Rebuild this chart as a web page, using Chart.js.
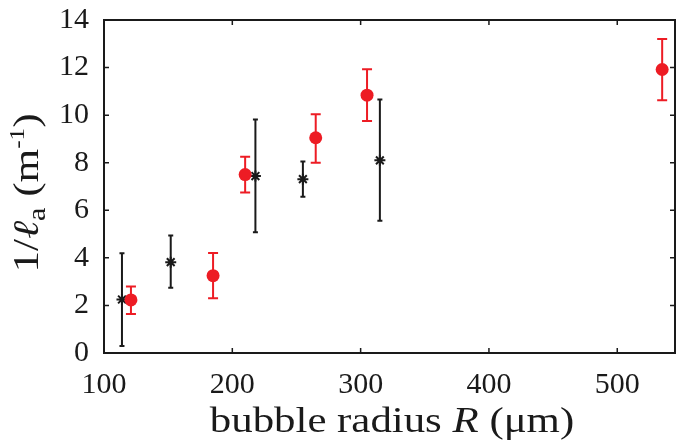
<!DOCTYPE html>
<html>
<head>
<meta charset="utf-8">
<script src="https://cdn.jsdelivr.net/npm/chart.js@4.4.1/dist/chart.umd.min.js"></script>
<style>
  html, body { margin: 0; padding: 0; background: #fff; }
</style>
</head>
<body>
<canvas id="chart" width="676" height="447"></canvas>
<script>
// tick labels
const xTicks = [100, 200, 300, 400, 500];
const yTicks = [0, 2, 4, 6, 8, 10, 12, 14];

// red circles (value with lower / upper error bar ends)
const redR = [121, 185, 210, 265, 305, 535];
const redVal = [2.23, 3.25, 7.5, 9.05, 10.84, 11.92];
const redLow = [1.64, 2.3, 6.75, 8.0, 9.75, 10.63];
const redHigh = [2.8, 4.2, 8.25, 10.04, 11.93, 13.2];

// black stars
const blackR = [114, 152, 218, 255, 315];
const blackVal = [2.25, 3.82, 7.44, 7.31, 8.1];
const blackLow = [0.29, 2.74, 5.08, 6.57, 5.56];
const blackHigh = [4.19, 4.94, 9.82, 8.05, 10.66];

const RED = '#ed1c24';
const INK = '#1a1a1a';
const SERIF = '"Liberation Serif"';

function toPoints(xs, ys) {
  return xs.map((x, i) => ({ x: x, y: ys[i] }));
}

// Draws vertical error bars with caps under the markers
const errorBars = {
  id: 'errorBars',
  beforeDatasetsDraw(chart) {
    const ctx = chart.ctx;
    const xs = chart.scales.x;
    const ys = chart.scales.y;
    chart.data.datasets.forEach(ds => {
      ctx.save();
      ctx.strokeStyle = ds.errColor;
      ctx.lineWidth = 2;
      ds.data.forEach((p, i) => {
        const px = xs.getPixelForValue(p.x);
        const top = ys.getPixelForValue(ds.errHigh[i]);
        const bot = ys.getPixelForValue(ds.errLow[i]);
        const w = ds.capHalf;
        ctx.beginPath();
        ctx.moveTo(px, top);
        ctx.lineTo(px, bot);
        ctx.moveTo(px - w, top);
        ctx.lineTo(px + w, top);
        ctx.moveTo(px - w, bot);
        ctx.lineTo(px + w, bot);
        ctx.stroke();
      });
      ctx.restore();
    });
  }
};

// Box frame with inward ticks on all four sides
const frame = {
  id: 'frame',
  afterDraw(chart) {
    const ctx = chart.ctx;
    const a = chart.chartArea;
    const xs = chart.scales.x;
    const ys = chart.scales.y;
    const len = 5;
    ctx.save();
    ctx.strokeStyle = INK;
    ctx.lineWidth = 2;
    ctx.strokeRect(a.left, a.top, a.right - a.left, a.bottom - a.top);
    ctx.lineWidth = 1.5;
    ctx.beginPath();
    xTicks.forEach(v => {
      const px = xs.getPixelForValue(v);
      ctx.moveTo(px, a.bottom);
      ctx.lineTo(px, a.bottom - len);
      ctx.moveTo(px, a.top);
      ctx.lineTo(px, a.top + len);
    });
    yTicks.forEach(v => {
      const py = ys.getPixelForValue(v);
      ctx.moveTo(a.left, py);
      ctx.lineTo(a.left + len, py);
      ctx.moveTo(a.right, py);
      ctx.lineTo(a.right - len, py);
    });
    ctx.stroke();
    ctx.restore();
  }
};

// Axis titles with italic letters, sub- and superscripts.
// Text is stretched a little to get the wide look of the original serif.
function drawRuns(ctx, runs, stretch) {
  let total = 0;
  runs.forEach(r => {
    ctx.font = r.font;
    r.w = ctx.measureText(r.text).width;
    total += r.w;
  });
  ctx.scale(stretch, 1);
  let x = -total / 2;
  runs.forEach(r => {
    ctx.font = r.font;
    ctx.fillText(r.text, x, r.dy || 0);
    x += r.w;
  });
}

const axisTitles = {
  id: 'axisTitles',
  afterDraw(chart) {
    const ctx = chart.ctx;
    ctx.save();
    ctx.fillStyle = INK;
    ctx.textBaseline = 'alphabetic';
    ctx.textAlign = 'left';
    ctx.translate(392, 432);
    drawRuns(ctx, [
      { text: 'bubble radius ', font: '36px ' + SERIF },
      { text: 'R', font: 'italic 36px ' + SERIF },
      { text: ' (\u03bcm)', font: '36px ' + SERIF }
    ], 1.19);
    ctx.restore();

    ctx.save();
    ctx.fillStyle = INK;
    ctx.textBaseline = 'alphabetic';
    ctx.textAlign = 'left';
    ctx.translate(38, 193);
    ctx.rotate(-Math.PI / 2);
    drawRuns(ctx, [
      { text: '1/', font: '36px ' + SERIF },
      { text: '\u2113', font: 'italic 36px ' + SERIF },
      { text: 'a', font: '25px ' + SERIF, dy: 7 },
      { text: ' (m', font: '36px ' + SERIF },
      { text: '-1', font: '21px ' + SERIF, dy: -14 },
      { text: ')', font: '36px ' + SERIF }
    ], 1.2);
    ctx.restore();
  }
};

const tickFont = { family: SERIF, size: 30 };

function drawChart() {
  new Chart(document.getElementById('chart'), {
    type: 'scatter',
    data: {
      datasets: [
        {
          label: 'red',
          data: toPoints(redR, redVal),
          errLow: redLow,
          errHigh: redHigh,
          errColor: RED,
          capHalf: 5,
          pointStyle: 'circle',
          pointRadius: 6.5,
          backgroundColor: RED,
          borderColor: RED,
          borderWidth: 0
        },
        {
          label: 'black',
          data: toPoints(blackR, blackVal),
          errLow: blackLow,
          errHigh: blackHigh,
          errColor: INK,
          capHalf: 2.5,
          pointStyle: 'star',
          pointRadius: 5.5,
          backgroundColor: INK,
          borderColor: INK,
          borderWidth: 2
        }
      ]
    },
    options: {
      responsive: false,
      animation: false,
      devicePixelRatio: 1,
      layout: { autoPadding: false, padding: { top: 20, right: 1, left: 0, bottom: 0 } },
      plugins: {
        legend: { display: false },
        tooltip: { enabled: false }
      },
      scales: {
        x: {
          type: 'linear',
          min: 100,
          max: 545,
          grid: { display: false },
          border: { display: false },
          afterBuildTicks: s => { s.ticks = xTicks.map(v => ({ value: v })); },
          afterFit: s => { s.height = 94; s.paddingLeft = 0; s.paddingRight = 0; },
          ticks: { font: tickFont, color: INK, padding: 6, autoSkip: false, maxRotation: 0 }
        },
        y: {
          type: 'linear',
          min: 0,
          max: 14,
          grid: { display: false },
          border: { display: false },
          afterBuildTicks: s => { s.ticks = yTicks.map(v => ({ value: v })); },
          afterFit: s => { s.width = 104; s.paddingTop = 0; s.paddingBottom = 0; },
          ticks: { font: tickFont, color: INK, padding: 7, autoSkip: false }
        }
      }
    },
    plugins: [errorBars, frame, axisTitles]
  });
}

// make sure the serif faces are ready before the first paint
Promise.all([
  document.fonts.load('30px "Liberation Serif"'),
  document.fonts.load('italic 36px "Liberation Serif"')
]).then(drawChart, drawChart);
</script>
</body>
</html>
